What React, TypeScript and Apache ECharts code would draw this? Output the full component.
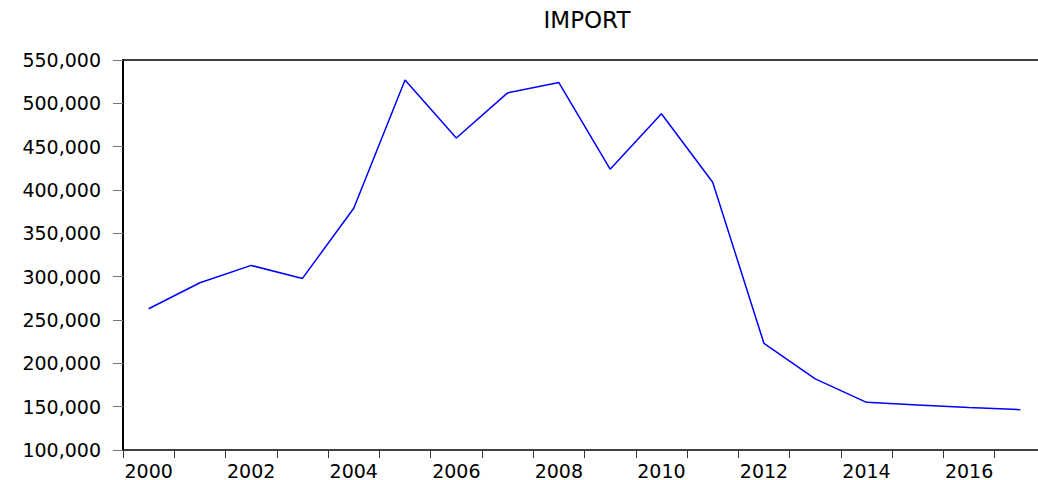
import React, { useEffect, useRef } from "react";
import * as echarts from "echarts";

const years = [
  "2000", "2001", "2002", "2003", "2004", "2005", "2006", "2007", "2008",
  "2009", "2010", "2011", "2012", "2013", "2014", "2015", "2016", "2017",
];
const importValues = [
  263000, 293000, 313000, 298000, 379000, 527000, 460000, 512000, 524000,
  424000, 488000, 409000, 223000, 182000, 155000, 152000, 149000, 146500,
];
const title = "IMPORT";

const fmt = (v: number) => v.toLocaleString("en-US");

export default function App() {
  const ref = useRef<HTMLDivElement>(null);
  useEffect(() => {
    document.body.style.margin = "0";
    document.body.style.overflow = "hidden";
    if (!ref.current) return;
    const chart = echarts.init(ref.current, null, { renderer: "svg" });
    const font = "DejaVu Sans";
    chart.setOption({
      animation: false,
      backgroundColor: "#ffffff",
      title: {
        text: title,
        left: 582,
        top: 3,
        textAlign: "center",
        textStyle: {
          fontFamily: font,
          fontSize: 23,
          fontWeight: "normal",
          color: "#000",
        },
      },
      grid: {
        left: 123,
        right: 54,
        top: 60,
        bottom: 30,
        show: false,
        containLabel: false,
        outerBoundsMode: "none",
      },
      xAxis: [
        {
          type: "category",
          data: years,
          boundaryGap: true,
          axisLine: { show: true, lineStyle: { color: "#000", width: 1.5 } },
          axisTick: {
            show: true,
            interval: 0,
            inside: false,
            length: 8,
            lineStyle: { color: "#333", width: 1 },
          },
          axisLabel: {
            interval: 1,
            margin: 11,
            fontFamily: font,
            fontSize: 19,
            color: "#000",
          },
          splitLine: { show: false },
        },
        {
          type: "category",
          data: years,
          position: "top",
          axisLine: { show: true, lineStyle: { color: "#000", width: 1.5 } },
          axisTick: { show: false },
          axisLabel: { show: false },
          splitLine: { show: false },
        },
      ],
      yAxis: {
        type: "value",
        min: 100000,
        max: 550000,
        interval: 50000,
        axisLine: { show: true, lineStyle: { color: "#000", width: 2 } },
        axisTick: {
          show: true,
          inside: false,
          length: 10,
          lineStyle: { color: "#777", width: 1 },
        },
        axisLabel: {
          margin: 22,
          fontFamily: font,
          fontSize: 19,
          color: "#000",
          formatter: (v: number) => fmt(v),
        },
        splitLine: { show: false },
      },
      series: [
        {
          type: "line",
          data: importValues,
          symbol: "none",
          lineStyle: { color: "#0000ff", width: 1.5 },
        },
      ],
    });
    return () => chart.dispose();
  }, []);
  return (
    <div style={{ width: 1038, height: 480, overflow: "hidden", position: "relative" }}>
      <div
        ref={ref}
        style={{ position: "absolute", left: 0, top: 0, width: 1100, height: 480 }}
      />
    </div>
  );
}
